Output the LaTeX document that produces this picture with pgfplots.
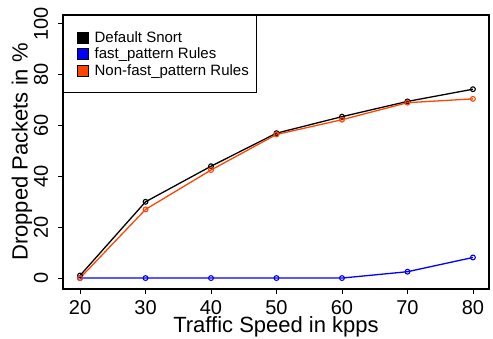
\documentclass[border=0pt]{standalone}
\usepackage{fontspec}
\setmainfont{Liberation Sans}
\usepackage{pgfplots}
\pgfplotsset{compat=1.18}
\definecolor{orred}{HTML}{FF4500}
\begin{document}
\begin{tikzpicture}
\path[use as bounding box] (-63pt,-50pt) rectangle (430pt,289pt);
\begin{axis}[
  at={(0,0)}, anchor=south west,
  scale only axis,
  width=426pt, height=274pt,
  xmin=17.4, xmax=82.45,
  ymin=-4.3, ymax=103.5,
  xtick={20,30,40,50,60,70,80},
  ytick={0,20,40,60,80,100},
  tick align=outside,
  major tick length=5pt,
  xtick pos=bottom, ytick pos=left,
  axis line style={line width=1.2pt},
  tick style={line width=0.8pt, black},
  /pgf/number format/assume math mode=true,
  xticklabel style={font=\fontsize{20}{24}\selectfont, anchor=base, inner sep=0pt, yshift=-21pt},
  yticklabel style={font=\fontsize{20}{24}\selectfont, rotate=90, anchor=base, inner sep=0pt, yshift=10pt},
  xlabel={Traffic Speed in kpps},
  ylabel={Dropped Packets in \%},
  xlabel style={font=\fontsize{22}{26}\selectfont, at={(axis description cs:0.5,-0.1606)}, anchor=base, inner sep=0pt},
  ylabel style={font=\fontsize{22}{26}\selectfont, at={(axis description cs:-0.0833,0.5)}, rotate=0, anchor=base, inner sep=0pt},
  legend cell align=left,
  legend style={at={(axis description cs:0,1)}, anchor=north west,
    font=\fontsize{15}{18}\selectfont, draw=black, line width=1.2pt,
    inner xsep=6pt, inner ysep=14pt, row sep=0pt,
    nodes={inner sep=2pt}},
  every axis plot/.append style={line width=1.3pt, mark=o, mark size=2.4pt, mark options={line width=1.1pt}},
]
\addplot[black, legend image code/.code={\path[draw=none] (0pt,0pt) -- (23pt,0pt); \draw[fill=black,draw=black,line width=0.8pt] (8pt,-5.5pt) rectangle (19pt,5.5pt);}]
  coordinates {(20,1) (30,30) (40,44) (50,57) (60,63.5) (70,69.5) (80,74.3)};
\addlegendentry{Default Snort}
\addplot[blue, legend image code/.code={\path[draw=none] (0pt,0pt) -- (23pt,0pt); \draw[fill=blue,draw=black,line width=0.8pt] (8pt,-5.5pt) rectangle (19pt,5.5pt);}]
  coordinates {(20,0) (30,0) (40,0) (50,0) (60,0) (70,2.5) (80,8.1)};
\addlegendentry{fast\_pattern Rules}
\addplot[orred, legend image code/.code={\path[draw=none] (0pt,0pt) -- (23pt,0pt); \draw[fill=orred,draw=black,line width=0.8pt] (8pt,-5.5pt) rectangle (19pt,5.5pt);}]
  coordinates {(20,0) (30,27) (40,42.5) (50,56.5) (60,62.3) (70,69) (80,70.5)};
\addlegendentry{Non-fast\_pattern Rules}
\end{axis}
\end{tikzpicture}
\end{document}
